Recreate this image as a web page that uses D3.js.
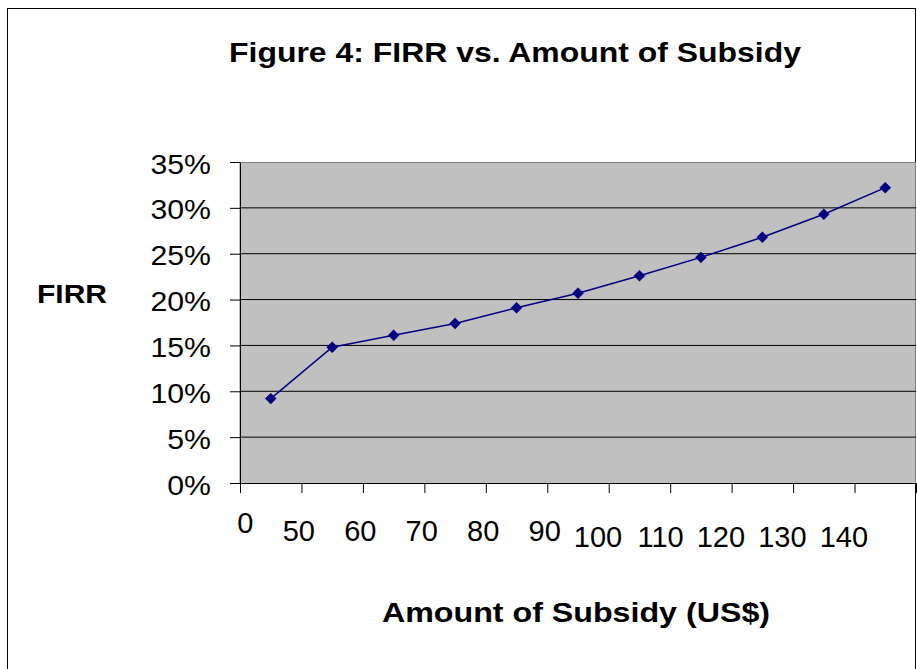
<!DOCTYPE html>
<meta charset="utf-8">
<script src="https://d3js.org/d3.v7.min.js"></script>
<style>
  body { margin: 0; background: #fff; }
  text { font-family: "Liberation Sans", Arial, sans-serif; fill: #000; }
  .title { font-size: 28px; font-weight: bold; }
  .axis-label { font-size: 28px; font-weight: bold; }
  .ytick text { font-size: 27px; }
  .xlab { font-size: 29px; }
</style>
<div id="chart"></div>
<script>
// category labels along the x axis (subsidy, US$)
const categories = ["0", "50", "60", "70", "80", "90", "100", "110", "120", "130", "140"];
// FIRR values in percent, one per category
const firr = [9.2, 14.8, 16.1, 17.4, 19.1, 20.7, 22.6, 24.6, 26.8, 29.3, 32.2];
// y tick values (percent)
const yTicks = [0, 5, 10, 15, 20, 25, 30, 35];

const W = 917, H = 669;
const plot = {left: 240, right: 916, top: 162, bottom: 483};

const svg = d3.select("#chart").append("svg")
    .attr("width", W)
    .attr("height", H);

// outer chart frame (cut off at bottom like the original)
svg.append("rect")
    .attr("x", 7.5).attr("y", 8.5)
    .attr("width", 908).attr("height", 700)
    .attr("fill", "#fff")
    .attr("stroke", "#000");

// scales
const x = d3.scaleBand()
    .domain(categories)
    .range([plot.left, plot.right])
    .padding(0);
const xIdx = d3.scaleLinear()
    .domain([0, categories.length])
    .range([plot.left, plot.right]);
const y = d3.scaleLinear()
    .domain([0, 35])
    .range([plot.bottom, plot.top]);

// plot area
svg.append("rect")
    .attr("x", plot.left).attr("y", plot.top + 0.5)
    .attr("width", plot.right - plot.left - 0.5)
    .attr("height", plot.bottom - plot.top)
    .attr("fill", "#c0c0c0")
    .attr("stroke", "#808080");

// gridlines
svg.append("g")
  .selectAll("line")
  .data(yTicks.filter(d => d > 0 && d < 35))
  .enter().append("line")
    .attr("x1", plot.left).attr("x2", plot.right)
    .attr("y1", d => y(d)).attr("y2", d => y(d))
    .attr("stroke", "#000")
    .attr("stroke-width", 1);

// y axis
const yAxis = svg.append("g")
    .attr("class", "ytick")
    .attr("transform", "translate(" + plot.left + ",0)")
    .call(d3.axisLeft(y)
      .tickValues(yTicks)
      .tickSize(10)
      .tickSizeOuter(0)
      .tickPadding(19)
      .tickFormat(d => d + "%"));
yAxis.select(".domain").attr("stroke", "#000");
yAxis.selectAll("text")
    .attr("dy", "0.41em")
    .attr("font-family", null).attr("font-size", null)
    .each(function() {
      const w = this.getComputedTextLength();
      d3.select(this).attr("textLength", w * 1.12).attr("lengthAdjust", "spacingAndGlyphs");
    });

// x axis: ticks on category boundaries
const xAxis = svg.append("g")
    .attr("transform", "translate(0," + plot.bottom + ")")
    .call(d3.axisBottom(xIdx)
      .tickValues(d3.range(categories.length + 1))
      .tickSize(10)
      .tickSizeOuter(0)
      .tickFormat(""));
xAxis.select(".domain").attr("stroke", "#000");

// x labels (right-aligned next to the left boundary of each category, like the original)
const lift = [0, 8, 14];
svg.append("g")
  .selectAll("text")
  .data(categories)
  .enter().append("text")
    .attr("class", "xlab")
    .attr("x", d => x(d) + 13.5)
    .attr("y", d => plot.bottom + 50 + lift[d.length - 1])
    .attr("text-anchor", "end")
    .text(d => d);

// line
const pts = categories.map((c, i) => [x(c) + x.bandwidth() / 2, y(firr[i])]);
svg.append("path")
    .datum(pts)
    .attr("fill", "none")
    .attr("stroke", "#000080")
    .attr("stroke-width", 1.5)
    .attr("d", d3.line());

// diamond markers
svg.append("g")
  .selectAll("path")
  .data(pts)
  .enter().append("path")
    .attr("d", d3.symbol().type(d3.symbolSquare).size(60))
    .attr("transform", d => "translate(" + d[0] + "," + d[1] + ") rotate(45)")
    .attr("fill", "#000080")
    .attr("stroke", "#000080")
    .attr("stroke-width", 0.5);

// title and axis labels
svg.append("text")
    .attr("class", "title")
    .attr("x", 515).attr("y", 62)
    .attr("text-anchor", "middle")
    .attr("textLength", 572).attr("lengthAdjust", "spacingAndGlyphs")
    .text("Figure 4: FIRR vs. Amount of Subsidy");

svg.append("text")
    .attr("class", "axis-label")
    .attr("x", 37).attr("y", 303)
    .attr("font-size", "26px")
    .style("font-size", "26px")
    .attr("textLength", 70).attr("lengthAdjust", "spacingAndGlyphs")
    .text("FIRR");

svg.append("text")
    .attr("class", "axis-label")
    .attr("x", 576).attr("y", 622)
    .attr("text-anchor", "middle")
    .attr("textLength", 388).attr("lengthAdjust", "spacingAndGlyphs")
    .text("Amount of Subsidy (US$)");
</script>
